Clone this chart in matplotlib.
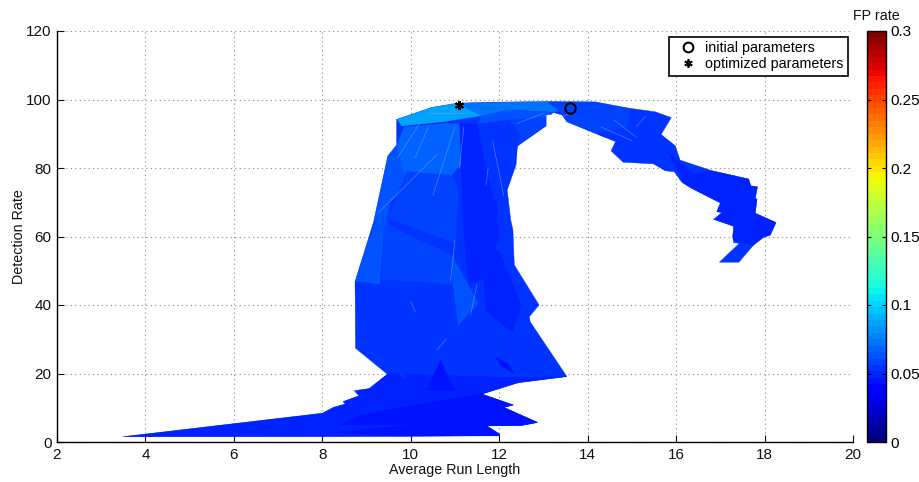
import numpy as np
import matplotlib
matplotlib.use("Agg")
import matplotlib.pyplot as plt
from matplotlib.patches import Polygon
from matplotlib.lines import Line2D

plt.rcParams["font.family"] = ["Liberation Sans", "DejaVu Sans"]

# outline of the whole surface, clockwise from the left tip
outline_x = [3.49, 8.0, 8.25, 8.52, 8.47, 8.83, 8.72, 9.06, 9.47, 8.75, 8.74, 9.16, 9.48, 9.68, 9.68,
             10.48, 11.04, 11.75, 13.08, 14.17, 14.96, 15.53, 15.89, 15.66, 15.98, 16.09, 16.81, 17.64,
             17.69, 17.84, 17.79, 17.83, 17.79, 18.26, 18.13, 17.98, 17.75, 17.42, 16.98, 17.43, 17.3,
             17.28, 17.3, 16.85, 17.04, 16.92, 17.0, 16.36, 16.13, 15.96, 15.75, 15.49, 14.8, 14.53,
             14.63, 13.53, 13.42, 13.22, 13.18, 13.06, 13.06, 12.41, 12.38, 12.18, 12.26, 12.31, 12.34,
             12.9, 12.68, 12.7, 13.53, 12.43, 11.61, 12.32, 12.11, 12.87, 12.5, 11.72, 12.01, 12.01,
             8.3, 3.49]
outline_y = [1.55, 8.4, 10.1, 11.1, 11.8, 13.5, 15.0, 15.6, 19.8, 27.4, 46.8, 64.3, 83.5, 86.7, 94.2,
             97.7, 98.9, 99.2, 99.4, 99.3, 97.4, 96.4, 94.7, 89.8, 86.5, 82.3, 79.2, 76.8,
             74.8, 74.5, 71.1, 70.9, 66.8, 64.1, 60.4, 59.8, 57.5, 52.5, 52.5, 58.0, 58.2,
             59.9, 63.0, 65.0, 67.0, 67.2, 69.8, 74.0, 75.8, 78.9, 79.2, 81.2, 81.7, 85.0,
             87.7, 93.5, 95.5, 96.2, 95.7, 95.5, 92.3, 86.4, 80.9, 73.6, 64.8, 61.9, 51.7,
             40.0, 36.6, 35.1, 19.1, 17.3, 14.0, 10.8, 10.1, 5.7, 4.8, 4.7, 2.3, 1.8,
             1.6, 1.55]
base_fp = 0.054

# facets laid over the base colour: (x list, y list, FP rate)
facets = [
    ([3.4, 8.0, 9.5, 12.0, 14, 14, 8.0], [1.5, 8.5, 20, 19, 19, 0, 0], 0.048),
    ([8.9, 10.6, 11.5, 13.6, 14, 12.5, 11.5, 8.0], [8, 12, 14, 19.5, 0, 0, 0, 3], 0.045),
    ([3.4, 8.0, 10, 8.0], [1.5, 5, 5, 2.5], 0.050),
    ([10.35, 10.67, 11.0], [15, 24, 15], 0.043),
    ([11.05, 11.35, 11.55, 11.2], [22, 26, 25, 20], 0.056),
    ([11.9, 12.05, 12.35, 12.2], [25, 22, 20, 23], 0.045),
    ([8.7, 9.9, 10.4, 9.8, 9.9, 9.0], [47, 47, 40, 30, 18, 27], 0.053),
    ([9.35, 10.93, 11.07, 10.4], [47.5, 46, 34, 40], 0.053),
    ([8.7, 9.2, 9.5, 9.4, 9.3, 8.7], [47, 64, 64, 62, 46, 47], 0.062),
    ([9.35, 10.93, 11.0, 9.4], [47.5, 46, 54, 64], 0.058),
    ([10.93, 11.53, 11.07, 10.95], [54.6, 40.5, 34, 46], 0.061),
    ([11.6, 12.0, 12.5, 12.3, 11.7], [55, 56, 40, 32, 38], 0.050),
    ([9.16, 9.48, 9.68, 9.85, 10.2, 9.55, 9.4], [64, 83.5, 86.7, 92, 80, 70, 62], 0.065),
    ([9.68, 9.85, 10.8, 11.1, 11.2, 10.8, 9.9], [86.7, 92, 93, 93, 82, 76, 76], 0.068),
    ([9.4, 9.9, 10.9, 11.1, 11.0, 9.55], [62, 79, 78, 74, 58, 65], 0.060),
    ([11.1, 11.5, 11.9, 12.0, 11.7, 11.3, 11.2], [93, 93, 78, 60, 48, 46, 60], 0.051),
    ([11.5, 12.2, 12.5, 12.4, 12.2, 11.9, 11.7], [93, 94, 90, 84, 74, 70, 80], 0.056),
    ([12.2, 13.1, 13.1, 12.4, 12.5], [94.5, 95, 92, 86, 90], 0.059),
    ([9.68, 10.48, 11.04, 11.75, 12.2, 11.6, 10.8, 9.8], [94.2, 97.7, 98.9, 98.4, 97.0, 95.2, 93.6, 92.2], 0.085),
    ([11.04, 11.75, 13.1, 14.0, 13.2, 12.2, 11.6], [98.9, 99.2, 99.4, 97.8, 96.3, 97.0, 95.2], 0.072),
    ([11.6, 12.2, 13.2, 13.3, 12.3, 11.5], [95.2, 97.0, 96.3, 95.0, 94.2, 93.0], 0.065),
    ([13.08, 14.17, 14.96, 14.9, 14.2, 13.5, 13.4], [99.4, 99.3, 97.4, 92, 90, 93.5, 96], 0.059),
    ([13.5, 14.2, 14.9, 14.7, 14.0], [93.5, 90, 92, 88, 90], 0.055),
    ([15.8, 16.2, 17.0, 18.3, 18.3, 17.0, 16.4], [85, 75, 60, 55, 80, 80, 78], 0.049),
]

# thin lighter seams between the facets: (x pair, y pair)
seam_x = [(9.27, 10.6), (10.1, 10.4), (10.5, 11.0), (11.1, 11.2), (11.35, 11.5), (10.1, 10.0), (9.7, 10.2),
          (10.9, 11.0), (13.1, 13.6), (14.3, 15.0), (14.6, 15.1), (17.1, 17.3), (11.7, 11.75), (11.85, 12.1),
          (10.4, 11.2), (10.6, 10.8), (12.4, 13.0), (15.1, 15.3)]
seam_y = [(67, 84), (83, 92), (72, 92), (80, 92), (37, 46), (38, 41), (83, 93), (47, 59),
          (93, 96), (92, 88), (94, 89), (59, 62), (75, 80), (88, 72), (96, 96), (27, 30), (93, 96), (92, 95)]

x_ticks = [2, 4, 6, 8, 10, 12, 14, 16, 18, 20]
y_ticks = [0, 20, 40, 60, 80, 100, 120]
cbar_ticks = [0, 0.05, 0.1, 0.15, 0.2, 0.25, 0.3]
cbar_labels = ["0", "0.05", "0.1", "0.15", "0.2", "0.25", "0.3"]

initial_x, initial_y = 13.6, 97.5
optimized_x, optimized_y = 11.1, 98.3

cmap = matplotlib.colormaps["jet"].resampled(64)
norm = matplotlib.colors.Normalize(0, 0.3)

fig = plt.figure(figsize=(9.2, 4.82), dpi=100)
ax = fig.add_axes([57 / 920, 1 - 442 / 482, (853 - 57) / 920, (442 - 31) / 482])

surface = ax.fill(outline_x, outline_y, color=cmap(norm(base_fp)), lw=0.3, zorder=2)[0]

# everything inside is clipped to the outline
for fx, fy, fp in facets:
    p = Polygon(np.column_stack([fx, fy]), closed=True, fc=cmap(norm(fp)), ec="none", zorder=3)
    ax.add_patch(p)
    p.set_clip_path(surface)
for sx, sy in zip(seam_x, seam_y):
    ln, = ax.plot(sx, sy, color="#7fa8ff", lw=0.5, alpha=0.6, zorder=4)
    ln.set_clip_path(surface)

ax.plot(initial_x, initial_y, "o", mfc="none", mec="k", mew=1.5, ms=7.5, zorder=6)
# six armed asterisk as in the original
ax.plot(optimized_x, optimized_y, marker=(6, 2, 0), color="k", ms=6.5, mew=1.4, zorder=6)

ax.set_xlim(2, 20)
ax.set_ylim(0, 120)
ax.set_xticks(x_ticks)
ax.set_yticks(y_ticks)
ax.grid(True, color="#888888", linestyle=(0, (1, 3)), lw=0.8)
ax.set_axisbelow(True)
ax.tick_params(direction="in", length=5, width=0.8, labelsize=11, pad=4, colors="#111111")
ax.spines["top"].set_visible(False)
ax.spines["right"].set_visible(False)
ax.spines["left"].set_linewidth(1.0)
ax.spines["bottom"].set_linewidth(1.0)
ax.set_xlabel("Average Run Length", fontsize=10.3, labelpad=1, color="#111111")
ax.set_ylabel("Detection Rate", fontsize=10.3, labelpad=0, color="#111111")

handles = [
    Line2D([], [], marker="o", ls="none", mfc="none", mec="k", mew=1.5, ms=7),
    Line2D([], [], marker=(6, 2, 0), ls="none", color="k", ms=6, mew=1.3),
]
leg = ax.legend(handles, ["initial parameters", "optimized parameters"], loc="upper left",
                bbox_to_anchor=((669 - 57) / 796, 1 - 6 / 411), borderaxespad=0, fontsize=10.3,
                fancybox=False, framealpha=1, edgecolor="k", borderpad=0.3, labelspacing=0.15,
                handletextpad=0.25, handlelength=2.0)
leg.get_frame().set_linewidth(1.2)

cax = fig.add_axes([867 / 920, 1 - 442 / 482, 19 / 920, (442 - 31) / 482])
cb = fig.colorbar(matplotlib.cm.ScalarMappable(norm=norm, cmap=cmap), cax=cax)
cb.set_ticks(cbar_ticks)
cb.set_ticklabels(cbar_labels)
cax.tick_params(direction="in", length=3, width=0.8, labelsize=11, pad=3, left=True, right=True)
cb.outline.set_linewidth(1.0)
cax.set_title("FP rate", fontsize=10.3, pad=8, color="#111111")

fig.savefig("out.png", dpi=100)
